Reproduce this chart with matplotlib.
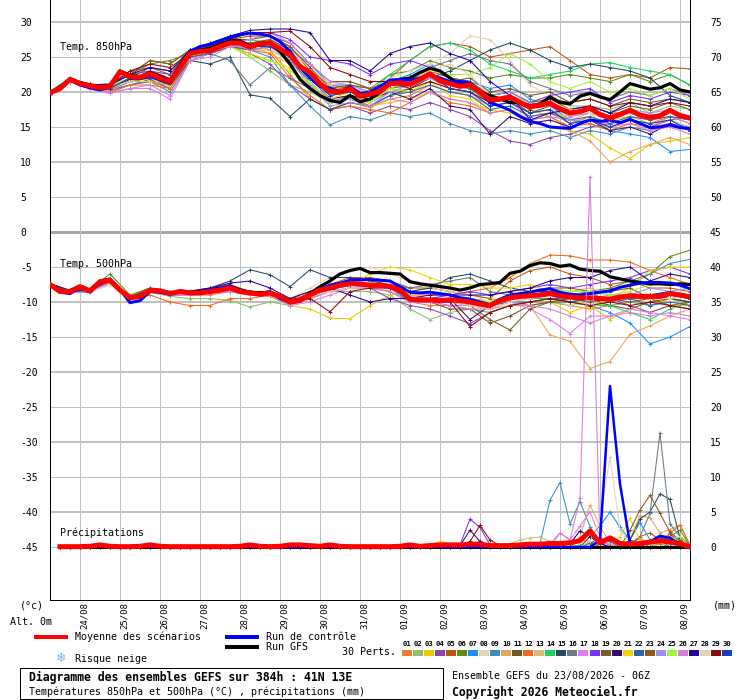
import matplotlib
matplotlib.use("Agg")
import matplotlib.pyplot as plt
from matplotlib.lines import Line2D
from matplotlib.patches import Rectangle

plt.rcParams["font.family"] = ["DejaVu Sans Mono", "DejaVu Sans"]
plt.rcParams["axes.unicode_minus"] = False

# ---- data (23/08/2026 06Z, 41N 13E) ----
HOURS_6H = list(range(0, 385, 6))          # thick lines: every 6 h
HOURS_12H = list(range(0, 385, 12))        # members: every 12 h
HOURS_PRECIP = list(range(6, 385, 6))      # precipitation steps
DAY_HOURS = list(range(18, 384, 24))       # 00Z of each day
DATES = ["24/08", "25/08", "26/08", "27/08", "28/08", "29/08", "30/08", "31/08",
         "01/09", "02/09", "03/09", "04/09", "05/09", "06/09", "07/09", "08/09"]

MEMBER_COLORS = ["#ee7f2d", "#8dc26a", "#eec900", "#8e44ad", "#b8580f", "#5f8a16",
                 "#1e8fff", "#e6d3b0", "#3e8eb8", "#e5a95a", "#6b5a1e", "#f26b1d",
                 "#d4be78", "#17d660", "#254a5e", "#6a7880", "#e07bf0", "#7b2ff7",
                 "#7a5c2a", "#3a0a6e", "#f2d500", "#2d65a7", "#8a5a1f", "#9c8ef0",
                 "#a2f53a", "#d77fd7", "#24009a", "#e6d2b5", "#8b0a0a", "#1040c0"]

mean_850 = [19.9, 20.5, 21.8, 21.2, 20.9, 20.6, 20.8, 22.9, 22.2, 22.1,
            22.6, 22.0, 21.5, 23.5, 25.5, 25.8, 25.9, 26.5, 27.0, 27.0,
            26.4, 26.9, 27.0, 26.2, 25.3, 23.6, 22.8, 21.2, 20.1, 20.0,
            20.5, 19.4, 19.7, 20.1, 21.2, 21.3, 21.1, 21.8, 22.6, 21.6,
            21.2, 20.8, 21.0, 20.0, 18.9, 19.0, 19.3, 18.5, 17.9, 18.1,
            18.4, 17.6, 17.0, 17.2, 17.7, 16.8, 16.3, 16.8, 17.4, 16.7,
            16.4, 16.6, 17.4, 16.6, 16.3]
ctrl_850 = [19.8, 20.4, 21.7, 21.0, 20.6, 20.3, 20.7, 22.8, 22.0, 21.9,
            22.4, 21.7, 21.2, 23.5, 25.8, 26.5, 26.8, 27.3, 27.8, 28.2,
            28.4, 28.3, 28.0, 27.2, 25.8, 23.5, 22.0, 20.8, 20.6, 20.0,
            20.8, 19.8, 20.0, 20.8, 21.7, 21.8, 21.7, 22.0, 22.4, 22.0,
            21.5, 21.5, 21.3, 20.0, 18.5, 18.0, 17.4, 16.5, 15.8, 15.5,
            15.0, 14.9, 14.8, 15.5, 16.0, 15.8, 16.0, 15.6, 16.1, 15.5,
            14.9, 15.0, 15.3, 14.9, 14.8]
gfs_850 = [19.9, 20.5, 21.9, 21.3, 21.0, 20.7, 20.9, 23.0, 22.4, 22.2,
           22.8, 22.3, 21.7, 23.8, 25.8, 26.0, 26.2, 26.8, 27.3, 27.3,
           26.6, 27.0, 27.0, 25.8, 24.0, 21.8, 20.5, 19.5, 18.8, 18.5,
           19.5, 18.6, 19.0, 20.0, 21.5, 21.8, 22.0, 22.8, 23.4, 23.0,
           22.0, 21.0, 21.2, 20.0, 19.5, 19.0, 18.5, 18.5, 18.0, 18.3,
           19.3, 18.5, 18.3, 19.4, 19.8, 19.3, 18.9, 20.0, 21.2, 20.8,
           20.4, 20.6, 21.2, 20.3, 20.0]

mean_500 = [-7.5, -8.5, -8.5, -7.8, -8.4, -7.1, -6.9, -8.3, -9.4, -9.2,
            -8.3, -8.4, -8.8, -8.5, -8.7, -8.7, -8.5, -8.3, -8.0, -8.5,
            -8.7, -8.9, -8.7, -9.2, -10.0, -9.7, -9.0, -8.3, -8.0, -7.6,
            -7.4, -7.4, -7.6, -7.6, -7.8, -8.3, -9.6, -9.7, -9.7, -9.8,
            -9.7, -9.8, -10.0, -10.3, -10.5, -9.8, -9.4, -9.2, -9.1, -9.0,
            -8.8, -9.1, -9.3, -9.4, -9.4, -9.5, -9.6, -9.3, -9.1, -9.2,
            -9.2, -9.2, -8.8, -9.0, -9.3]
ctrl_500 = [-7.6, -8.6, -8.8, -7.9, -8.6, -7.0, -6.7, -8.2, -10.1, -9.8,
            -8.5, -8.6, -8.9, -8.4, -8.6, -8.5, -8.2, -8.0, -7.7, -8.3,
            -8.6, -8.8, -8.5, -9.5, -10.1, -9.9, -9.0, -8.2, -7.6, -7.3,
            -6.9, -6.8, -6.8, -6.9, -7.0, -7.8, -8.6, -8.7, -8.6, -8.8,
            -9.0, -9.4, -9.6, -10.0, -10.4, -9.6, -9.0, -8.8, -8.6, -8.3,
            -8.1, -8.6, -8.9, -9.0, -8.8, -8.6, -8.4, -7.9, -7.6, -7.3,
            -7.2, -7.2, -7.3, -7.6, -8.1]
gfs_500 = [-7.5, -8.5, -8.4, -7.8, -8.4, -7.2, -7.0, -8.3, -9.3, -9.2,
           -8.3, -8.4, -8.8, -8.5, -8.7, -8.6, -8.3, -8.2, -7.8, -8.3,
           -8.6, -8.7, -8.6, -9.2, -9.8, -9.6, -8.8, -7.8, -7.0, -6.0,
           -5.5, -5.2, -5.8, -5.8, -5.9, -6.0, -7.1, -7.4, -7.6, -7.8,
           -8.0, -8.3, -8.0, -7.5, -7.4, -7.2, -5.9, -5.6, -4.8, -4.4,
           -4.5, -4.9, -4.7, -5.3, -5.5, -5.6, -6.4, -6.7, -7.0, -7.2,
           -7.4, -7.4, -7.5, -7.4, -7.5]

mean_precip = [0.05, 0.05, 0.05, 0.1, 0.3, 0.1, 0.05, 0.05, 0.1, 0.3,
               0.1, 0.05, 0.05, 0.05, 0.05, 0.05, 0.05, 0.05, 0.1, 0.3,
               0.1, 0.05, 0.1, 0.3, 0.3, 0.2, 0.1, 0.3, 0.1, 0.05,
               0.05, 0.05, 0.05, 0.05, 0.1, 0.3, 0.1, 0.2, 0.3, 0.3,
               0.3, 0.4, 0.4, 0.2, 0.2, 0.2, 0.3, 0.4, 0.4, 0.5,
               0.5, 0.6, 0.9, 2.3, 0.6, 1.3, 0.5, 0.4, 0.5, 0.7,
               0.9, 0.7, 0.5, 0.0]
ctrl_precip = {30: 0.1, 330: 1.0, 336: 23.0, 342: 9.0, 348: 0.5, 354: 0.3,
               360: 0.8, 366: 1.6, 372: 1.3, 378: 0.4}
gfs_precip = {}

t850_members = [
    [19.8, 21.9, 20.7, 20.1, 21.0, 21.5, 20.5, 24.5, 25.5, 26.5, 27.0, 26.0, 22.5, 19.0, 17.5, 18.5, 17.8, 19.0, 19.5, 21.0, 20.0, 19.5, 18.0, 18.5, 17.0, 17.5, 15.5, 16.5, 15.0, 16.0, 15.5, 16.5, 15.5],
    [20.0, 21.8, 21.0, 20.8, 22.0, 22.5, 21.0, 25.0, 26.0, 27.0, 25.0, 23.0, 21.0, 20.0, 18.5, 19.0, 18.5, 20.0, 20.5, 22.0, 21.0, 20.5, 19.0, 19.5, 18.5, 19.0, 18.0, 18.0, 17.5, 18.5, 17.0, 18.0, 17.5],
    [19.7, 21.7, 20.8, 20.5, 21.5, 22.0, 20.8, 25.5, 26.5, 27.5, 26.5, 25.5, 24.0, 22.5, 21.0, 19.5, 18.0, 18.5, 19.0, 20.0, 19.0, 18.5, 17.5, 17.0, 16.0, 15.0, 14.5, 14.0, 12.0, 10.5, 12.5, 13.0, 13.5],
    [19.6, 21.5, 20.6, 20.3, 21.0, 21.8, 20.5, 25.0, 26.0, 26.5, 25.5, 24.0, 21.0, 19.0, 17.5, 18.0, 17.0, 18.0, 17.5, 18.5, 17.5, 16.5, 14.5, 13.0, 12.5, 13.5, 14.0, 15.0, 15.5, 16.0, 15.0, 16.0, 16.5],
    [20.0, 22.0, 21.0, 21.0, 23.0, 23.5, 22.5, 25.5, 26.5, 27.5, 28.5, 28.0, 26.5, 23.0, 21.0, 20.5, 19.5, 22.0, 24.5, 26.5, 27.0, 26.5, 25.0, 25.5, 26.0, 26.5, 24.5, 22.5, 22.0, 22.5, 22.0, 23.5, 23.3],
    [19.9, 21.8, 21.0, 21.0, 22.5, 24.0, 24.5, 25.5, 26.0, 27.0, 27.0, 26.5, 25.0, 22.0, 20.0, 21.0, 20.5, 22.5, 23.0, 24.5, 23.5, 23.0, 22.0, 22.5, 22.0, 22.0, 22.5, 22.0, 21.5, 22.5, 21.5, 22.5, 21.0],
    [19.8, 21.6, 20.8, 20.6, 22.0, 22.5, 21.5, 25.5, 26.0, 27.0, 26.5, 27.5, 26.0, 24.0, 21.0, 21.0, 20.0, 21.5, 22.5, 24.0, 22.0, 21.5, 20.5, 21.0, 19.0, 18.0, 16.0, 15.5, 14.5, 14.0, 13.5, 11.5, 11.8],
    [19.9, 21.8, 20.8, 20.8, 22.0, 22.0, 21.0, 25.5, 26.0, 27.5, 27.0, 27.5, 26.0, 23.5, 21.0, 21.5, 20.5, 22.0, 23.0, 24.0, 25.5, 28.0, 27.5, 24.5, 21.0, 19.5, 18.0, 17.0, 16.0, 17.5, 16.5, 17.0, 16.0],
    [19.7, 21.5, 20.5, 20.3, 21.0, 21.5, 20.0, 24.5, 25.5, 26.5, 26.0, 25.0, 21.0, 18.0, 15.3, 16.5, 16.0, 17.0, 16.5, 17.0, 15.5, 14.5, 14.0, 14.5, 14.0, 14.5, 13.5, 14.5, 14.0, 15.0, 14.5, 15.5, 15.0],
    [19.8, 21.7, 20.7, 20.2, 21.5, 22.0, 21.0, 25.0, 25.5, 26.5, 26.0, 26.0, 24.5, 21.0, 19.0, 19.5, 18.5, 20.0, 20.0, 21.5, 20.5, 20.0, 18.5, 19.0, 17.5, 16.5, 14.5, 13.0, 10.0, 11.5, 12.5, 13.5, 12.5],
    [20.0, 21.9, 21.1, 21.0, 22.5, 24.5, 24.0, 26.0, 26.5, 27.5, 27.5, 28.0, 27.0, 24.0, 21.5, 21.5, 20.5, 21.0, 21.5, 22.5, 21.5, 22.0, 20.0, 20.5, 19.5, 20.0, 18.5, 19.0, 18.0, 19.0, 18.5, 19.0, 18.5],
    [19.8, 21.6, 20.6, 19.9, 21.0, 21.0, 20.5, 25.0, 25.5, 26.5, 26.0, 25.5, 22.0, 19.5, 17.5, 18.0, 17.5, 17.0, 18.5, 20.0, 18.5, 18.0, 17.0, 17.5, 16.0, 16.5, 15.0, 15.5, 14.5, 15.5, 15.0, 15.5, 14.5],
    [19.9, 21.8, 20.9, 21.0, 22.5, 23.0, 22.0, 26.0, 26.0, 27.0, 26.0, 26.5, 25.0, 22.5, 19.5, 20.0, 19.5, 21.0, 20.5, 22.5, 21.0, 20.5, 18.5, 19.0, 17.0, 17.5, 16.0, 17.0, 14.5, 16.5, 15.5, 16.0, 15.0],
    [20.0, 22.0, 21.0, 20.8, 22.0, 22.5, 22.0, 25.5, 26.5, 27.0, 27.5, 27.0, 25.5, 22.5, 20.0, 20.5, 20.0, 22.5, 24.5, 26.5, 27.0, 26.0, 24.0, 23.0, 22.0, 22.5, 23.0, 24.0, 24.2, 23.5, 23.0, 22.5, 21.0],
    [19.8, 21.6, 20.7, 20.5, 21.5, 21.5, 21.0, 24.5, 24.0, 25.0, 19.6, 19.1, 16.5, 19.0, 17.5, 18.5, 18.0, 19.5, 20.5, 22.0, 23.0, 24.5, 26.0, 27.0, 26.0, 24.5, 23.5, 24.0, 23.5, 23.0, 22.0, 19.5, 18.5],
    [19.7, 21.7, 20.6, 20.5, 21.5, 22.0, 21.5, 25.0, 25.5, 24.5, 21.0, 23.5, 22.0, 20.5, 18.5, 19.5, 19.0, 20.5, 21.5, 23.5, 24.5, 25.5, 24.5, 24.0, 21.5, 20.5, 19.5, 20.0, 19.0, 20.0, 19.5, 20.5, 19.5],
    [19.6, 21.5, 20.4, 19.8, 20.5, 20.5, 19.0, 24.5, 25.5, 27.0, 27.5, 28.5, 27.0, 24.0, 21.5, 21.0, 20.0, 21.5, 21.0, 22.0, 20.5, 20.0, 18.0, 18.5, 16.5, 17.0, 15.5, 16.0, 15.5, 16.0, 15.0, 16.5, 15.5],
    [19.9, 21.9, 21.0, 21.2, 22.5, 23.0, 22.5, 26.0, 26.5, 28.0, 28.5, 28.5, 27.5, 25.0, 24.5, 24.0, 22.5, 24.0, 24.5, 23.5, 22.0, 21.5, 19.5, 20.0, 18.5, 19.5, 20.0, 20.5, 18.5, 19.5, 19.0, 20.0, 19.5],
    [19.8, 21.8, 20.9, 20.6, 22.0, 23.5, 23.0, 25.5, 26.0, 27.0, 27.0, 27.5, 26.0, 22.5, 19.5, 20.0, 19.0, 20.5, 21.0, 22.5, 21.0, 20.5, 18.5, 19.0, 17.0, 18.0, 17.5, 18.0, 17.0, 18.0, 17.5, 18.5, 17.5],
    [19.8, 21.7, 20.8, 20.6, 21.8, 22.0, 21.5, 25.5, 26.0, 27.0, 26.5, 27.0, 25.0, 22.0, 19.0, 19.5, 19.0, 20.0, 19.0, 20.5, 18.0, 17.5, 14.0, 16.5, 15.5, 16.0, 15.0, 16.0, 14.5, 15.0, 14.0, 15.5, 14.5],
    [19.9, 21.8, 21.0, 20.8, 21.5, 21.5, 21.0, 25.0, 26.0, 26.5, 25.5, 24.5, 23.5, 21.0, 19.0, 20.0, 19.5, 20.5, 20.0, 21.5, 19.5, 19.0, 17.0, 17.5, 16.0, 17.0, 16.5, 17.0, 16.0, 16.5, 16.0, 16.5, 16.0],
    [19.7, 21.6, 20.7, 20.4, 21.5, 22.5, 21.5, 25.0, 25.5, 26.5, 26.0, 26.5, 24.5, 21.5, 18.5, 19.0, 18.0, 19.5, 20.0, 21.0, 20.0, 19.5, 17.5, 18.0, 16.5, 17.0, 16.0, 16.5, 15.5, 16.5, 16.0, 16.5, 16.0],
    [20.0, 21.9, 21.1, 21.0, 22.5, 24.5, 24.0, 26.0, 26.5, 27.5, 28.0, 28.0, 26.5, 23.5, 20.5, 21.0, 20.5, 21.5, 22.0, 23.0, 22.0, 21.5, 19.5, 20.0, 18.5, 19.0, 17.5, 18.0, 17.0, 17.0, 16.0, 17.0, 16.5],
    [19.8, 21.7, 20.9, 20.7, 22.0, 22.5, 21.5, 25.5, 26.0, 27.0, 26.0, 26.5, 24.5, 21.0, 18.0, 18.5, 18.0, 20.0, 21.0, 22.0, 21.5, 21.0, 19.5, 20.0, 18.5, 18.0, 16.5, 17.0, 16.5, 17.5, 17.0, 17.5, 16.5],
    [19.9, 21.8, 21.0, 20.9, 22.0, 22.5, 22.0, 25.5, 26.0, 26.5, 25.0, 24.5, 23.0, 21.5, 18.5, 19.0, 18.5, 20.5, 21.5, 23.0, 22.5, 22.5, 23.5, 25.5, 24.0, 21.5, 20.5, 21.5, 20.0, 20.5, 19.5, 20.5, 19.0],
    [19.6, 21.5, 20.5, 19.9, 20.5, 21.0, 19.5, 24.5, 25.0, 26.5, 26.5, 27.0, 25.5, 22.0, 19.0, 19.0, 18.0, 19.0, 18.5, 20.0, 19.0, 18.5, 17.0, 17.5, 16.0, 16.5, 16.0, 16.0, 15.0, 15.5, 14.5, 15.0, 14.0],
    [19.9, 21.9, 21.1, 21.0, 22.5, 23.5, 23.0, 26.0, 27.0, 28.0, 28.8, 29.0, 29.0, 28.5, 24.5, 24.5, 23.0, 25.5, 26.5, 27.0, 25.5, 24.5, 21.5, 19.5, 16.0, 17.0, 17.5, 18.0, 17.0, 18.5, 18.0, 19.0, 18.5],
    [19.8, 21.7, 20.8, 20.5, 21.5, 22.5, 21.5, 25.5, 26.0, 27.0, 26.5, 27.0, 25.5, 23.0, 20.0, 20.5, 20.0, 21.5, 22.0, 23.0, 24.0, 22.5, 19.5, 19.0, 17.5, 18.5, 17.5, 17.0, 16.0, 17.0, 16.5, 17.0, 16.0],
    [20.0, 21.9, 21.0, 21.0, 23.0, 24.0, 23.5, 25.5, 26.5, 27.5, 28.5, 28.5, 28.7, 26.5, 23.5, 22.5, 21.5, 21.5, 20.5, 21.5, 20.5, 20.0, 18.5, 19.0, 17.5, 19.0, 18.5, 19.0, 18.0, 18.5, 18.0, 18.5, 18.0],
    [19.8, 21.8, 20.9, 20.5, 22.0, 22.0, 21.5, 25.5, 26.0, 27.0, 26.5, 26.5, 25.0, 22.0, 19.5, 20.0, 19.5, 21.0, 21.0, 22.5, 20.5, 20.0, 18.0, 18.5, 17.0, 17.5, 15.5, 16.0, 15.0, 16.0, 15.5, 16.0, 14.5],
]

t500_members = [
    [-7.6, -8.6, -8.5, -7.2, -9.6, -8.5, -9.0, -9.0, -9.0, -8.5, -9.0, -9.2, -10.5, -9.5, -8.5, -8.0, -8.0, -8.5, -10.0, -10.5, -10.5, -11.0, -11.5, -10.5, -10.0, -10.0, -10.5, -11.0, -10.5, -10.0, -10.5, -9.5, -10.0],
    [-7.4, -8.4, -8.3, -7.0, -9.5, -8.6, -9.2, -9.5, -9.5, -9.8, -10.7, -10.0, -10.5, -9.5, -8.5, -8.5, -8.5, -9.0, -11.0, -12.5, -11.5, -11.0, -11.5, -10.5, -10.5, -10.0, -10.5, -10.0, -10.5, -10.0, -10.5, -9.5, -10.5],
    [-7.5, -8.6, -8.6, -7.0, -9.5, -8.5, -9.0, -9.0, -8.5, -8.5, -9.0, -9.0, -10.5, -11.0, -12.3, -12.4, -10.5, -9.0, -8.5, -8.0, -8.5, -9.0, -9.5, -10.0, -10.5, -10.0, -11.5, -10.5, -12.5, -11.0, -11.5, -10.5, -10.5],
    [-7.6, -8.5, -8.4, -6.8, -9.3, -8.2, -8.6, -8.5, -8.5, -8.0, -8.5, -8.5, -9.5, -9.0, -8.0, -7.5, -8.0, -9.5, -10.5, -11.0, -12.0, -13.1, -11.5, -10.5, -10.0, -9.5, -9.5, -10.0, -9.5, -10.5, -11.5, -10.5, -11.0],
    [-7.5, -8.4, -8.3, -6.8, -9.2, -8.0, -8.5, -8.4, -8.0, -7.5, -8.5, -8.5, -9.5, -8.5, -7.5, -6.5, -6.5, -7.0, -8.0, -8.0, -8.5, -9.0, -9.5, -7.0, -5.5, -5.0, -6.0, -6.5, -7.5, -7.0, -8.0, -8.0, -8.5],
    [-7.4, -8.3, -8.2, -6.0, -9.0, -8.0, -8.5, -8.5, -8.5, -8.0, -8.5, -8.5, -10.0, -9.0, -8.0, -7.5, -7.5, -8.0, -9.5, -9.5, -9.5, -9.5, -10.0, -9.0, -8.5, -8.5, -9.0, -8.5, -8.0, -7.0, -6.0, -3.5, -2.6],
    [-7.5, -8.5, -8.5, -7.0, -9.5, -8.5, -9.0, -9.0, -8.5, -8.5, -9.0, -9.0, -10.0, -9.0, -8.0, -7.5, -7.5, -8.0, -9.5, -9.5, -9.5, -9.5, -10.0, -9.0, -9.0, -9.0, -10.0, -10.5, -11.5, -13.0, -16.0, -15.0, -13.5],
    [-7.5, -8.4, -8.6, -7.5, -9.2, -8.3, -8.8, -8.8, -8.5, -8.0, -8.7, -8.5, -9.5, -8.0, -6.5, -5.5, -5.0, -6.0, -7.0, -8.0, -8.5, -9.0, -10.0, -9.5, -10.0, -9.5, -10.5, -10.0, -10.0, -9.5, -10.0, -9.0, -9.5],
    [-7.4, -8.5, -8.4, -7.0, -9.5, -8.4, -8.9, -8.8, -8.6, -8.2, -8.8, -8.8, -10.2, -9.2, -8.2, -7.6, -7.8, -8.0, -9.5, -9.5, -9.5, -9.8, -10.5, -9.5, -9.5, -9.0, -9.5, -9.0, -8.5, -7.5, -6.0, -4.5, -3.9],
    [-7.6, -8.6, -8.5, -7.0, -9.5, -8.5, -9.0, -9.0, -8.8, -8.5, -9.0, -9.0, -10.5, -9.5, -8.5, -8.0, -8.0, -8.5, -10.0, -10.0, -10.0, -10.5, -11.0, -10.5, -10.5, -14.7, -15.6, -19.5, -18.5, -14.6, -13.4, -12.0, -11.0],
    [-7.5, -8.5, -8.4, -6.9, -9.4, -8.3, -8.9, -8.7, -8.5, -8.0, -8.7, -8.8, -10.0, -9.0, -8.0, -7.5, -7.5, -8.0, -9.5, -10.0, -11.0, -11.0, -13.0, -12.0, -10.5, -10.0, -10.0, -9.5, -10.5, -11.0, -10.0, -9.5, -10.0],
    [-7.5, -8.5, -8.6, -7.2, -9.6, -9.0, -10.0, -10.5, -10.5, -9.5, -9.5, -9.0, -10.0, -9.0, -8.0, -7.5, -7.5, -8.0, -9.0, -9.0, -9.0, -8.5, -8.0, -6.5, -4.5, -3.3, -3.4, -4.0, -4.0, -4.3, -5.5, -6.5, -7.5],
    [-7.5, -8.4, -8.4, -6.9, -9.3, -8.2, -8.8, -8.7, -8.6, -8.2, -8.6, -8.7, -10.0, -9.0, -8.2, -7.5, -7.5, -7.5, -9.0, -9.5, -9.0, -9.5, -10.0, -9.0, -8.5, -8.0, -8.5, -8.0, -9.0, -9.0, -9.5, -9.0, -9.5],
    [-7.4, -8.4, -8.2, -6.7, -9.2, -8.2, -8.6, -8.6, -8.4, -7.8, -8.5, -8.6, -9.8, -8.8, -7.8, -7.2, -7.5, -7.8, -9.5, -9.5, -9.5, -10.0, -10.5, -9.5, -9.5, -9.5, -10.0, -10.5, -10.5, -11.5, -12.5, -11.0, -10.0],
    [-7.4, -8.4, -8.3, -6.8, -9.3, -8.2, -8.7, -8.5, -8.0, -7.0, -5.4, -6.1, -7.8, -5.4, -6.5, -6.5, -7.0, -7.5, -8.5, -8.0, -6.5, -6.0, -7.0, -8.0, -8.5, -8.5, -9.0, -9.0, -9.5, -9.5, -9.0, -9.5, -10.0],
    [-7.5, -8.5, -8.5, -7.0, -9.4, -8.3, -8.8, -8.7, -8.5, -8.0, -8.5, -8.5, -10.0, -9.0, -8.0, -7.5, -7.5, -7.5, -8.0, -7.5, -7.0, -6.5, -8.5, -9.0, -9.5, -9.0, -9.5, -9.5, -10.0, -9.5, -9.5, -9.0, -9.5],
    [-7.6, -8.6, -8.6, -7.3, -9.6, -8.6, -9.0, -9.0, -8.8, -8.5, -9.0, -9.0, -10.5, -10.0, -9.0, -8.0, -8.0, -8.5, -10.0, -10.0, -10.5, -10.5, -11.0, -10.0, -11.0, -12.5, -14.5, -12.0, -12.0, -11.0, -11.5, -12.0, -12.5],
    [-7.5, -8.5, -8.4, -6.9, -9.5, -8.3, -8.8, -8.6, -8.4, -8.0, -8.6, -8.6, -10.0, -9.2, -8.0, -7.5, -7.6, -7.8, -9.6, -9.5, -9.0, -8.5, -9.0, -8.5, -8.0, -7.5, -8.0, -7.5, -7.0, -6.5, -5.5, -5.0, -6.0],
    [-7.5, -8.5, -8.4, -6.9, -9.4, -8.4, -8.9, -8.8, -8.5, -8.0, -8.7, -8.7, -10.0, -9.2, -8.2, -7.6, -7.8, -8.0, -9.8, -10.0, -10.0, -10.5, -12.5, -14.0, -11.0, -10.0, -9.5, -10.0, -9.5, -10.0, -9.5, -9.0, -9.5],
    [-7.5, -8.5, -8.4, -6.9, -9.4, -8.3, -8.8, -8.7, -8.5, -8.0, -8.7, -8.7, -10.0, -9.0, -8.0, -7.5, -7.5, -7.8, -9.6, -9.5, -9.5, -12.5, -10.5, -9.5, -9.0, -8.5, -9.0, -9.0, -9.5, -9.0, -9.0, -8.5, -9.0],
    [-7.5, -8.5, -8.3, -6.8, -9.3, -8.2, -8.7, -8.6, -8.4, -7.9, -8.6, -8.6, -10.0, -9.0, -8.0, -7.5, -6.0, -5.0, -5.4, -6.5, -7.5, -7.5, -8.0, -8.0, -7.5, -8.5, -9.0, -11.0, -9.5, -8.0, -5.5, -5.0, -5.0],
    [-7.5, -8.5, -8.5, -7.0, -9.5, -8.5, -9.0, -8.8, -8.6, -8.2, -8.8, -8.8, -10.2, -9.2, -8.2, -7.6, -7.6, -8.0, -10.0, -10.0, -10.0, -10.0, -10.5, -10.0, -10.0, -9.5, -10.0, -9.5, -9.5, -9.5, -10.5, -10.0, -10.5],
    [-7.5, -8.4, -8.4, -6.8, -9.3, -8.3, -8.8, -8.7, -8.5, -8.0, -8.6, -8.6, -9.8, -9.0, -7.8, -7.3, -7.5, -7.8, -9.5, -9.5, -9.5, -10.0, -10.5, -9.0, -8.5, -8.0, -8.0, -8.5, -8.5, -8.0, -9.5, -10.5, -10.0],
    [-7.6, -8.6, -8.5, -7.0, -9.5, -8.4, -8.9, -8.8, -8.6, -8.2, -8.8, -8.8, -10.0, -9.2, -8.2, -7.6, -7.8, -8.0, -9.8, -10.0, -10.0, -10.0, -10.5, -9.5, -9.5, -9.0, -9.5, -9.5, -9.0, -9.0, -8.0, -8.5, -8.0],
    [-7.5, -8.4, -8.3, -6.9, -9.3, -8.2, -8.7, -8.6, -8.4, -8.0, -8.6, -8.6, -9.8, -8.8, -7.8, -7.2, -7.2, -7.6, -9.4, -9.5, -9.5, -9.5, -10.0, -9.0, -8.5, -8.0, -8.5, -8.5, -9.0, -8.5, -7.5, -7.0, -8.0],
    [-7.6, -8.6, -8.6, -7.2, -9.5, -8.5, -9.0, -8.9, -8.7, -8.2, -8.8, -8.8, -10.2, -9.5, -8.5, -8.0, -8.0, -8.5, -10.0, -10.0, -10.5, -11.0, -11.0, -10.0, -10.5, -11.0, -12.0, -13.0, -12.0, -11.5, -12.0, -11.5, -12.0],
    [-7.4, -8.4, -8.3, -6.8, -9.3, -8.2, -8.7, -8.5, -8.0, -7.3, -7.0, -8.0, -9.5, -8.5, -8.0, -9.0, -10.0, -9.5, -9.5, -9.0, -9.0, -9.0, -9.0, -8.5, -8.0, -7.0, -6.5, -6.5, -5.5, -5.0, -7.0, -6.0, -6.5],
    [-7.5, -8.5, -8.5, -7.6, -9.3, -8.4, -8.8, -8.8, -8.6, -8.2, -8.8, -8.8, -10.2, -9.2, -8.5, -8.0, -8.0, -8.0, -9.5, -9.5, -10.0, -10.5, -11.0, -10.0, -9.5, -9.0, -9.5, -9.0, -9.5, -9.0, -9.5, -9.5, -9.0],
    [-7.4, -8.4, -8.3, -6.8, -9.3, -8.3, -8.7, -8.6, -8.3, -7.8, -8.6, -8.6, -10.0, -9.5, -11.4, -8.5, -8.0, -8.0, -9.5, -9.5, -10.0, -13.5, -11.5, -10.5, -10.0, -9.5, -10.0, -10.5, -10.0, -10.5, -10.0, -10.5, -11.0],
    [-7.5, -8.5, -8.4, -6.9, -9.4, -8.3, -8.8, -8.7, -8.5, -8.0, -8.7, -8.7, -10.0, -9.0, -8.0, -7.5, -7.5, -7.8, -9.5, -9.6, -9.8, -10.0, -10.5, -9.5, -9.0, -8.5, -9.0, -9.5, -9.5, -9.0, -9.0, -8.5, -9.5],
]

# precipitation per member, {hour: mm}; steps not listed are dry
precip_members = [
    {312: 0.5, 318: 1.0, 324: 0.8, 348: 0.6, 354: 1.2, 360: 0.5},
    {246: 0.3, 324: 0.4, 360: 0.5, 366: 1.0, 372: 0.5},
    {228: 0.3, 234: 0.8, 240: 0.5, 246: 0.4, 372: 1.0, 378: 0.6},
    {252: 0.3, 330: 0.6, 336: 0.4},
    {324: 0.8, 354: 1.5, 360: 2.0, 366: 1.0},
    {366: 0.8, 372: 1.5, 378: 2.4, 384: 0.2},
    {60: 0.4, 324: 1.5, 330: 3.0, 336: 5.0, 342: 2.8, 348: 1.0, 354: 3.5, 360: 1.0, 366: 0.5},
    {300: 0.5, 306: 0.3, 336: 1.0, 342: 0.5},
    {294: 0.5, 300: 6.7, 306: 9.2, 312: 3.3, 318: 6.5, 324: 2.9, 330: 0.5},
    {318: 1.5, 324: 6.0, 330: 3.0, 336: 0.5, 348: 1.0, 354: 4.5, 360: 4.2, 366: 2.0, 372: 2.5, 378: 3.2, 384: 0.3},
    {360: 0.5, 366: 1.0, 372: 1.8, 378: 0.8},
    {366: 0.5, 372: 2.0, 378: 3.1, 384: 0.3},
    {276: 0.5, 282: 1.0, 288: 1.3, 294: 1.4, 300: 0.8, 306: 0.5, 312: 0.4},
    {318: 0.3, 330: 0.5, 378: 1.5, 384: 0.2},
    {30: 0.3, 348: 1.0, 354: 4.0, 360: 5.0, 366: 7.6, 372: 6.8, 378: 1.3, 384: 0.3},
    {348: 0.5, 354: 1.5, 360: 4.8, 366: 16.3, 372: 3.3, 378: 1.5, 384: 0.2},
    {300: 0.5, 306: 2.0, 312: 1.0, 318: 3.0, 324: 5.0, 330: 1.5},
    {246: 0.3, 252: 4.0, 258: 2.8, 264: 0.3},
    {324: 1.5, 330: 0.5, 354: 0.8},
    {246: 0.2, 252: 2.4, 258: 0.8, 264: 0.2},
    {342: 1.5, 348: 4.1, 354: 1.0, 360: 0.5},
    {150: 0.3, 324: 0.6, 330: 1.2, 336: 0.8},
    {348: 2.4, 354: 5.3, 360: 7.4, 366: 4.8, 372: 2.1, 378: 1.0},
    {330: 0.5, 366: 0.8, 372: 0.5},
    {360: 0.5, 372: 1.0, 378: 1.5},
    {306: 2.0, 312: 1.0, 318: 7.0, 324: 52.9, 330: 0.8, 336: 0.3},
    {312: 0.5, 318: 2.3, 324: 1.5, 330: 0.5},
    {324: 0.8, 330: 3.8, 336: 12.8, 342: 2.5, 348: 0.5},
    {252: 0.8, 258: 3.1, 264: 1.0, 270: 0.2},
    {120: 0.3, 360: 0.8, 366: 1.5, 372: 1.0},
]

for s in (mean_850, ctrl_850, gfs_850, mean_500, ctrl_500, gfs_500):
    assert len(s) == len(HOURS_6H), len(s)
for s in t850_members + t500_members:
    assert len(s) == len(HOURS_12H), len(s)
assert len(mean_precip) == len(HOURS_PRECIP)

# ---- figure ----
W, H = 740, 700
PX = 0.72  # one pixel in points at dpi 100


def fx(px):
    return px / W


def fy(py):
    return 1 - py / H


fig = plt.figure(figsize=(W / 100, H / 100), dpi=100, facecolor="white")
ax = fig.add_axes([fx(50), fy(600), 640 / W, 600 / H])
ylo, yhi = -52.571, 33.143
ax.set_xlim(0, 384)
ax.set_ylim(ylo, yhi)

# grid
for v in range(30, -50, -5):
    if v == 0:
        ax.axhline(v, color="#a8a8a8", lw=3 * PX, zorder=0.5)
    else:
        ax.axhline(v, color="#c0c0c0", lw=(2 if v % 10 == 0 else 1) * PX, zorder=0.5)
for h in DAY_HOURS:
    ax.axvline(h, color="#c0c0c0", lw=1 * PX, zorder=0.5)

for sp in ("top",):
    ax.spines[sp].set_visible(False)
for sp in ("left", "right", "bottom"):
    ax.spines[sp].set_linewidth(1 * PX)

# left scale (temperatures)
left_ticks = list(range(30, -50, -5))
ax.set_yticks(left_ticks, labels=[str(v) for v in left_ticks])
ax.tick_params(axis="y", length=0, pad=30 * PX, labelsize=7)
for lab in ax.get_yticklabels():
    lab.set_horizontalalignment("left")

ax.set_xticks(DAY_HOURS, labels=DATES, rotation=90)
ax.tick_params(axis="x", length=0, pad=2 * PX, labelsize=6.5)
for lab in ax.get_xticklabels():
    lab.set_horizontalalignment("left")

# right scale (precipitation, mm)
ax2 = ax.twinx()
ax2.set_ylim(ylo + 45, yhi + 45)
for sp in ax2.spines.values():
    sp.set_visible(False)
right_ticks = list(range(75, -5, -5))
ax2.set_yticks(right_ticks, labels=[str(v) for v in right_ticks])
ax2.tick_params(axis="y", length=0, pad=20 * PX, labelsize=7)

# members
for col, v850, v500 in zip(MEMBER_COLORS, t850_members, t500_members):
    for vals in (v850, v500):
        ax.plot(HOURS_12H, vals, color=col, lw=0.75, marker="+", ms=3,
                mew=0.7, zorder=2)
for col, ev in zip(MEMBER_COLORS, precip_members):
    ax2.plot(HOURS_PRECIP, [ev.get(h, 0.0) for h in HOURS_PRECIP], color=col,
             lw=0.75, marker="+", ms=3, mew=0.7, zorder=2)

# GFS, control, mean
for vals in (gfs_850, gfs_500):
    ax.plot(HOURS_6H, vals, color="black", lw=3.2 * PX, zorder=3)
for vals in (ctrl_850, ctrl_500):
    ax.plot(HOURS_6H, vals, color="#0000ff", lw=3 * PX, zorder=4)
for vals in (mean_850, mean_500):
    ax.plot(HOURS_6H, vals, color="#ff0000", lw=5 * PX, zorder=5)

ax2.plot(HOURS_PRECIP, [gfs_precip.get(h, 0.0) for h in HOURS_PRECIP],
         color="black", lw=3 * PX, zorder=3)
ax2.plot(HOURS_PRECIP, [ctrl_precip.get(h, 0.0) for h in HOURS_PRECIP],
         color="#0000ff", lw=2.5 * PX, zorder=4)
ax2.plot(HOURS_PRECIP, mean_precip, color="#ff0000", lw=5 * PX, zorder=5)

# panel captions
fs = 7.2
fig.text(fx(60), fy(47), "Temp. 850hPa", fontsize=fs, va="center")
fig.text(fx(60), fy(264), "Temp. 500hPa", fontsize=fs, va="center")
fig.text(fx(60), fy(533), "Précipitations", fontsize=fs, va="center")

fig.text(fx(20), fy(606), "(°c)", fontsize=fs, va="center")
fig.text(fx(10), fy(622), "Alt. 0m", fontsize=fs, va="center")
fig.text(fx(713), fy(606), "(mm)", fontsize=fs, va="center")

# legend
for x0, x1, y, c in ((36, 66, 637, "#ff0000"), (227, 257, 637, "#0000ff"),
                     (227, 257, 647, "black")):
    fig.add_artist(Line2D([fx(x0), fx(x1)], [fy(y), fy(y)], color=c, lw=4 * PX,
                          transform=fig.transFigure))
fig.text(fx(75), fy(637), "Moyenne des scénarios", fontsize=fs, va="center")
fig.text(fx(266), fy(637), "Run de contrôle", fontsize=fs, va="center")
fig.text(fx(266), fy(647), "Run GFS", fontsize=fs, va="center")
fig.text(fx(342), fy(652), "30 Perts.", fontsize=fs, va="center")
fig.text(fx(61), fy(658), "\u2744", fontsize=9, color="#79b8ec", ha="center",
         va="center", family=["DejaVu Sans"])
fig.text(fx(75), fy(659), "Risque neige", fontsize=fs, va="center")

for i, col in enumerate(MEMBER_COLORS):
    x0 = 402 + 11.03 * i
    fig.add_artist(Rectangle((fx(x0), fy(656)), 10 / W, 6 / H, color=col,
                             transform=fig.transFigure, lw=0))
    fig.text(fx(x0 + 5), fy(644), f"{i + 1:02d}", fontsize=5.2, weight="bold",
             ha="center", va="center")

# caption box
fig.add_artist(Rectangle((fx(20), fy(699)), 423 / W, 31 / H, fill=False,
                         lw=1 * PX, ec="black", transform=fig.transFigure))
fig.text(fx(29), fy(677), "Diagramme des ensembles GEFS sur 384h : 41N 13E",
         fontsize=8.3, weight="bold", va="center")
fig.text(fx(29), fy(692),
         "Températures 850hPa et 500hPa (°C) , précipitations (mm)",
         fontsize=fs, va="center")
fig.text(fx(452), fy(676), "Ensemble GEFS du 23/08/2026 - 06Z", fontsize=fs,
         va="center")
fig.text(fx(452), fy(692), "Copyright 2026 Meteociel.fr", fontsize=8.3,
         weight="bold", va="center")

fig.savefig("out.png", dpi=100, facecolor="white")
